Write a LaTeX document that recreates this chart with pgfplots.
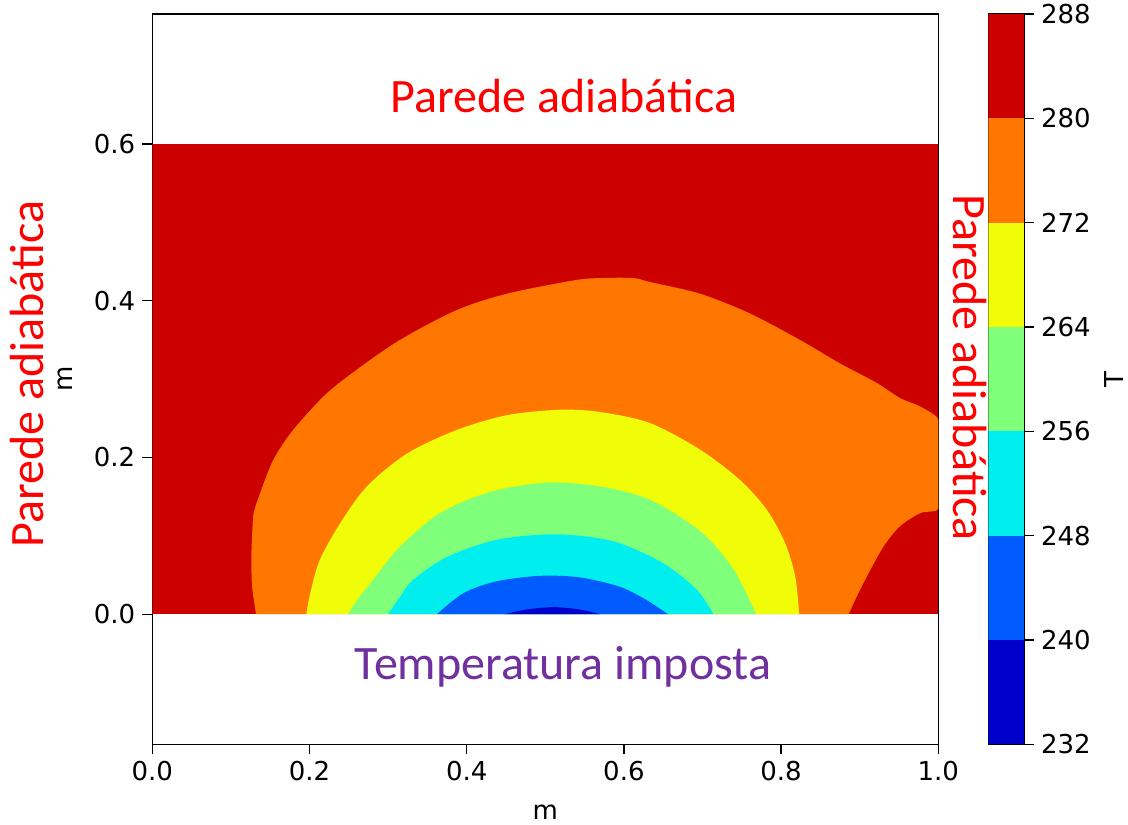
\documentclass[border=0pt]{standalone}
\usepackage{fontspec}
\setmainfont{DejaVu Sans}
\newfontfamily\calibri{Carlito}
\usepackage{pgfplots}
\pgfplotsset{compat=1.18}
\definecolor{cDR}{RGB}{205,0,0}
\definecolor{cOR}{RGB}{255,119,0}
\definecolor{cYE}{RGB}{241,252,8}
\definecolor{cGR}{RGB}{128,255,122}
\definecolor{cCY}{RGB}{0,238,238}
\definecolor{cBL}{RGB}{0,92,255}
\definecolor{cDB}{RGB}{0,0,205}
\definecolor{cPU}{RGB}{112,48,160}
\begin{document}
\begin{tikzpicture}
\path[use as bounding box] (0,0) rectangle (564pt,412pt);
\begin{axis}[
  name=main,
  at={(76.15pt,39.85pt)}, anchor=south west,
  scale only axis, width=393pt, height=365.15pt,
  xmin=0, xmax=1, ymin=-0.166, ymax=0.766,
  xtick={0,0.2,0.4,0.6,0.8,1.0}, ytick={0,0.2,0.4,0.6},
  tick pos=left, tick align=outside, major tick length=5pt,
  axis line style={line width=0.7pt}, tick style={line width=0.7pt, black},
  /pgf/number format/assume math mode=true,
  xticklabel style={/pgf/number format/.cd, fixed, fixed zerofill, precision=1},
  yticklabel style={/pgf/number format/.cd, fixed, fixed zerofill, precision=1},
  ticklabel style={font=\fontsize{13}{15}\selectfont},
  xlabel={m}, ylabel={m},
  label style={font=\fontsize{13}{15}\selectfont},
  xlabel style={yshift=-5pt},
  ylabel style={yshift=4pt},
  clip=true,
]
% T in [280,288]
\addplot[fill=cDR, draw=none] coordinates {(0,0) (1,0) (1,0.6) (0,0.6)} --cycle;
% T < 280
\addplot[fill=cOR, draw=none, smooth, tension=0.5] coordinates {
(0.132,0) (0.127,0.035) (0.126,0.069) (0.127,0.100) (0.129,0.129) (0.137,0.154) (0.154,0.197) (0.179,0.235) (0.220,0.280) (0.260,0.312) (0.315,0.350) (0.387,0.388) (0.451,0.409) (0.536,0.426) (0.570,0.429) (0.612,0.429) (0.633,0.424) (0.697,0.409) (0.760,0.384) (0.824,0.350) (0.875,0.320) (0.922,0.295) (0.951,0.276) (0.977,0.265) (1.0,0.249) (1.003,0.22) (1.003,0.16) (1.0,0.134) (0.977,0.129) (0.951,0.112) (0.930,0.086) (0.909,0.048) (0.896,0.022) (0.886,0)
} --cycle;
% T < 272
\addplot[fill=cYE, draw=none, smooth, tension=0.5] coordinates {
(0.196,0) (0.201,0.027) (0.213,0.069) (0.239,0.116) (0.273,0.163) (0.324,0.205) (0.387,0.235) (0.451,0.254) (0.519,0.261) (0.570,0.258) (0.633,0.244) (0.697,0.210) (0.748,0.171) (0.782,0.133) (0.805,0.091) (0.818,0.048) (0.823,0)
} --cycle;
% T < 264
\addplot[fill=cGR, draw=none, smooth, tension=0.5] coordinates {
(0.249,0) (0.262,0.020) (0.281,0.044) (0.315,0.086) (0.366,0.129) (0.430,0.156) (0.502,0.168) (0.570,0.163) (0.633,0.146) (0.697,0.106) (0.737,0.061) (0.760,0.018) (0.768,0)
} --cycle;
% T < 256
\addplot[fill=cCY, draw=none, smooth, tension=0.5] coordinates {
(0.300,0) (0.315,0.022) (0.332,0.044) (0.375,0.073) (0.438,0.095) (0.514,0.102) (0.587,0.093) (0.650,0.065) (0.693,0.031) (0.714,0)
} --cycle;
% T < 248
\addplot[fill=cBL, draw=none, smooth, tension=0.5] coordinates {
(0.362,0) (0.396,0.027) (0.438,0.042) (0.493,0.049) (0.544,0.047) (0.595,0.035) (0.629,0.018) (0.656,0)
} --cycle;
% T < 240
\addplot[fill=cDB, draw=none, smooth, tension=0.5] coordinates {
(0.449,0) (0.470,0.005) (0.493,0.008) (0.514,0.009) (0.544,0.006) (0.570,0)
} --cycle;
\end{axis}
% colorbar
\begin{axis}[
  at={(494.15pt,39.85pt)}, anchor=south west,
  scale only axis, width=17.85pt, height=365.15pt,
  xmin=0, xmax=1, ymin=232, ymax=288,
  xtick=\empty, ytick={232,240,248,256,264,272,280,288},
  ytick pos=right, yticklabel pos=right, tick align=outside, major tick length=5pt,
  axis line style={line width=0.7pt}, tick style={line width=0.7pt, black},
  /pgf/number format/assume math mode=true,
  ticklabel style={font=\fontsize{13}{15}\selectfont},
  ylabel={T}, ylabel style={font=\fontsize{13}{15}\selectfont},
  yticklabel style={/pgf/number format/.cd, fixed},
]
\addplot[fill=cDB, draw=none] coordinates {(0,232) (1,232) (1,240) (0,240)} --cycle;
\addplot[fill=cBL, draw=none] coordinates {(0,240) (1,240) (1,248) (0,248)} --cycle;
\addplot[fill=cCY, draw=none] coordinates {(0,248) (1,248) (1,256) (0,256)} --cycle;
\addplot[fill=cGR, draw=none] coordinates {(0,256) (1,256) (1,264) (0,264)} --cycle;
\addplot[fill=cYE, draw=none] coordinates {(0,264) (1,264) (1,272) (0,272)} --cycle;
\addplot[fill=cOR, draw=none] coordinates {(0,272) (1,272) (1,280) (0,280)} --cycle;
\addplot[fill=cDR, draw=none] coordinates {(0,280) (1,280) (1,288) (0,288)} --cycle;
\end{axis}
% annotations
\node[anchor=base, text=red, font=\calibri\fontsize{24}{26}\selectfont, inner sep=0pt] at (282pt,355.85pt) {Parede adiabática};
\node[anchor=base, text=cPU, font=\calibri\fontsize{24}{26}\selectfont, inner sep=0pt] at (281.5pt,72pt) {Temperatura imposta};
\node[anchor=base, rotate=90, text=red, font=\calibri\fontsize{24}{26}\selectfont, inner sep=0pt] at (21.65pt,225pt) {Parede adiabática};
\node[anchor=base, rotate=-90, text=red, font=\calibri\fontsize{24}{26}\selectfont, inner sep=0pt] at (476.65pt,228.25pt) {Parede adiabática};
\end{tikzpicture}
\end{document}
